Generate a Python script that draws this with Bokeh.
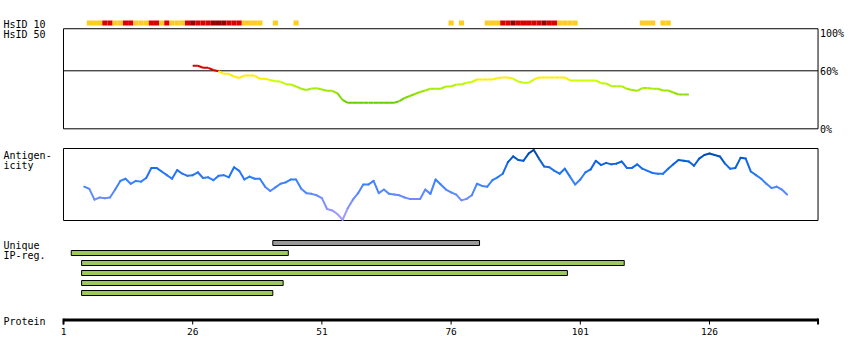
from bokeh.plotting import figure
from bokeh.models import Range1d, Label, ColumnDataSource
from bokeh.core.properties import value
from bokeh.embed import file_html
from bokeh.resources import INLINE

# ---------------- data ----------------
PROTEIN_LEN = 147
AXIS_TICKS = [1, 26, 51, 76, 101, 126]
AXIS_TICK_LABELS = ["1", "26", "51", "76", "101", "126"]
HSID_CUTOFF = 60
HSID_TICKS = [100, 60, 0]
HSID_TICK_LABELS = ["100%", "60%", "0%"]

# HsID 10 track: residue -> identity class
hs10_pos = [6, 7, 8, 9, 10, 11, 12, 13, 14, 15, 16, 17, 18, 19, 20, 21, 22, 23, 24, 25,
            26, 27, 28, 29, 30, 31, 32, 33, 34, 35, 36, 37, 38, 39, 42, 46,
            76, 78, 83, 84, 85, 86, 87, 88, 89, 90, 91, 92, 93, 94, 95, 96, 97, 98, 99, 100,
            113, 114, 115, 117, 118]
hs10_cls = ["lo", "lo", "lo", "mid", "mid", "lo", "lo", "mid", "mid", "lo", "lo", "lo", "mid", "mid", "lo", "mid", "lo", "lo", "lo", "mid",
            "hi", "mid", "mid", "mid", "hi", "hi", "hi", "mid", "mid", "mid", "lo", "lo", "lo", "lo", "lo", "lo",
            "lo", "lo", "lo", "lo", "lo", "mid", "mid", "hi", "mid", "mid", "mid", "mid", "mid", "hi", "mid", "mid", "lo", "lo", "lo", "lo",
            "lo", "lo", "lo", "lo", "lo"]

# HsID 50 profile (%), residues 26..122
hsid_start = 26
hsid_vals = [65.2, 65.2, 63.1, 63.1, 60.8, 59.6, 56.9, 56.9, 54.1, 52.6,
             55.1, 55.1, 55.1, 51.7, 51.7, 50.5, 49.2, 48.9, 46.1, 45.8,
             43.8, 41.4, 40.1, 41.7, 42.0, 40.7, 39.3, 39.3, 36.8, 29.8,
             26.9, 26.9, 26.9, 26.9, 26.9, 26.9, 26.9, 26.9, 26.9, 26.9,
             28.6, 31.9, 33.9, 36.0, 38.1, 39.6, 41.4, 41.4, 41.4, 43.8,
             43.8, 45.8, 45.8, 47.6, 48.4, 51.0, 51.0, 51.0, 51.0, 52.6,
             53.1, 53.1, 52.0, 48.9, 47.6, 47.6, 51.0, 53.1, 53.1, 53.1,
             53.1, 53.1, 53.1, 50.0, 50.0, 50.0, 50.0, 50.0, 50.0, 47.2,
             46.9, 44.1, 44.1, 44.1, 41.4, 40.1, 39.3, 42.2, 42.2, 41.4,
             41.4, 39.6, 39.6, 37.6, 35.5, 35.5, 35.5]

# Antigenicity profile (relative score 0..1), residues 5..141
ag_start = 5
ag_vals = [0.47, 0.44, 0.29, 0.32, 0.31, 0.32, 0.43, 0.55, 0.58, 0.51,
           0.55, 0.54, 0.59, 0.73, 0.73, 0.68, 0.63, 0.58, 0.70, 0.65,
           0.62, 0.63, 0.67, 0.59, 0.60, 0.56, 0.62, 0.63, 0.60, 0.74,
           0.69, 0.57, 0.61, 0.58, 0.58, 0.47, 0.41, 0.46, 0.51, 0.53,
           0.57, 0.57, 0.44, 0.38, 0.37, 0.35, 0.31, 0.16, 0.14, 0.09,
           0.01, 0.17, 0.29, 0.38, 0.50, 0.50, 0.55, 0.38, 0.43, 0.37,
           0.36, 0.35, 0.32, 0.30, 0.30, 0.30, 0.43, 0.37, 0.57, 0.50,
           0.43, 0.39, 0.36, 0.28, 0.30, 0.35, 0.51, 0.48, 0.47, 0.56,
           0.60, 0.65, 0.81, 0.89, 0.84, 0.83, 0.93, 0.98, 0.86, 0.75,
           0.74, 0.69, 0.65, 0.72, 0.61, 0.50, 0.57, 0.67, 0.71, 0.83,
           0.77, 0.80, 0.78, 0.79, 0.82, 0.73, 0.73, 0.78, 0.72, 0.69,
           0.66, 0.65, 0.65, 0.72, 0.78, 0.84, 0.83, 0.82, 0.76, 0.86,
           0.91, 0.93, 0.91, 0.89, 0.79, 0.72, 0.73, 0.87, 0.86, 0.68,
           0.63, 0.58, 0.51, 0.45, 0.47, 0.43, 0.36]

# Unique / IP-regions
reg_start = [42, 3, 5, 5, 5, 5]
reg_end = [81, 44, 109, 98, 43, 41]
reg_kind = ["unique", "ip", "ip", "ip", "ip", "ip"]

# ---------------- styling helpers ----------------
HS10_COLORS = {"lo": "#FFCC22", "mid": "#DD0000", "hi": "#990000"}
REG_COLORS = {"unique": "#999999", "ip": "#9DC85A"}
FONT = "DejaVu Sans Mono"


def lerp_color(stops, v):
    if v <= stops[0][0]:
        return stops[0][1]
    for (a, ca), (b, cb) in zip(stops[:-1], stops[1:]):
        if v <= b:
            t = (v - a) / (b - a)
            c1 = [int(ca[i:i + 2], 16) for i in (1, 3, 5)]
            c2 = [int(cb[i:i + 2], 16) for i in (1, 3, 5)]
            return "#%02X%02X%02X" % tuple(round(x + (y - x) * t) for x, y in zip(c1, c2))
    return stops[-1][1]


def hsid_color(v):
    if v >= HSID_CUTOFF:
        return "#DD0000"
    if v >= 50.5:
        return "#FFEE00"
    return lerp_color([(27, "#66CC00"), (50, "#CCFF00")], v)


AG_STOPS = [(0.0, "#B4A0FF"), (0.3, "#6E8CFF"), (0.55, "#3380FF"),
            (0.72, "#1A6EF0"), (0.86, "#0058CC"), (1.0, "#003F99")]

# ---------------- figure (frame covers the whole canvas) ----------------
p = figure(width=850, height=345, output_backend="svg", toolbar_location=None,
           x_range=Range1d(-11.190, 153.28), y_range=Range1d(345, 0),
           x_axis_location=None, y_axis_location=None,
           min_border_left=0, min_border_right=0, min_border_top=0, min_border_bottom=0)
p.grid.visible = False
p.outline_line_color = None
p.background_fill_color = "white"
p.border_fill_color = "white"

p.extra_y_ranges = {
    "hs10": Range1d(-64, 5),
    "hsid": Range1d(-224.17, 132.72),
    "ag": Range1d(-1.7361, 3.0556),
    "rows": Range1d(10.25, -24.25),
}

# HsID 10 track
p.quad(left=[r - 0.5 for r in hs10_pos], right=[r + 0.5 for r in hs10_pos],
       bottom=0, top=1, fill_color=[HS10_COLORS[c] for c in hs10_cls],
       line_color=None, y_range_name="hs10")

# HsID 50 panel
p.quad(left=1, right=PROTEIN_LEN, bottom=0, top=103.5, fill_color=None,
       line_color="black", line_width=1, y_range_name="hsid")
p.segment(x0=1, x1=PROTEIN_LEN, y0=HSID_CUTOFF, y1=HSID_CUTOFF,
          line_color="black", line_width=1, y_range_name="hsid")
hx = [hsid_start + i for i in range(len(hsid_vals))]
hsrc = ColumnDataSource(dict(
    x0=hx[:-1], x1=hx[1:], y0=hsid_vals[:-1], y1=hsid_vals[1:],
    c=[hsid_color((a + b) / 2) for a, b in zip(hsid_vals[:-1], hsid_vals[1:])]))
p.segment(x0="x0", y0="y0", x1="x1", y1="y1", line_color="c", line_width=2,
          source=hsrc, y_range_name="hsid")
for v, t in zip(HSID_TICKS, HSID_TICK_LABELS):
    p.add_layout(Label(x=PROTEIN_LEN, y=v, x_offset=2, y_offset=-1, text=t,
                       y_range_name="hsid", text_baseline="middle",
                       text_font=FONT, text_font_size="10px", text_color="black"))

# Antigenicity panel
p.quad(left=1, right=PROTEIN_LEN, bottom=0, top=1, fill_color=None,
       line_color="black", line_width=1, y_range_name="ag")
ax = [ag_start + i for i in range(len(ag_vals))]
asrc = ColumnDataSource(dict(
    x0=ax[:-1], x1=ax[1:], y0=ag_vals[:-1], y1=ag_vals[1:],
    c=[lerp_color(AG_STOPS, (a + b) / 2) for a, b in zip(ag_vals[:-1], ag_vals[1:])]))
p.segment(x0="x0", y0="y0", x1="x1", y1="y1", line_color="c", line_width=2,
          line_cap="round", source=asrc, y_range_name="ag")

# Unique / IP regions
rows = list(range(len(reg_start)))
p.quad(left=[s - 0.5 for s in reg_start], right=[e + 0.5 for e in reg_end],
       bottom=[k - 0.25 for k in rows], top=[k + 0.25 for k in rows],
       fill_color=[REG_COLORS[k] for k in reg_kind], line_color="black",
       line_width=1, y_range_name="rows")

# Protein ruler (drawn in the layout range, positions from the residue scale)
RULER_Y = 319.5
p.segment(x0=1, x1=PROTEIN_LEN, y0=RULER_Y, y1=RULER_Y, line_color="black",
          line_width=3, line_cap="butt")
p.segment(x0=AXIS_TICKS, x1=AXIS_TICKS, y0=RULER_Y, y1=RULER_Y + 4.5,
          line_color="black", line_width=1)
p.segment(x0=[1, PROTEIN_LEN], x1=[1, PROTEIN_LEN], y0=RULER_Y - 1.5, y1=RULER_Y + 4.5,
          line_color="black", line_width=2)
p.text(x=AXIS_TICKS, y=RULER_Y + 7.5, text=AXIS_TICK_LABELS, text_align="center",
       text_baseline="top", text_font=value(FONT), text_font_size="9.5px",
       text_color="black")

# Left labels
left_labels = [("HsID 10", 23.5), ("HsID 50", 33.5), ("Antigen-", 154.5), ("icity", 164.5),
               ("Unique", 244.5), ("IP-reg.", 254.5), ("Protein", 321)]
for t, y in left_labels:
    p.add_layout(Label(x=-11.190, y=y, x_offset=3, text=t, text_baseline="alphabetic",
                       text_font=FONT, text_font_size="10px", text_color="black"))

open("out.html", "w").write(file_html(p, INLINE))
